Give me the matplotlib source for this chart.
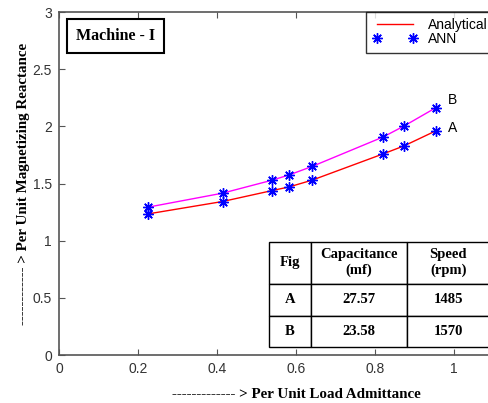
import matplotlib.pyplot as plt

# per unit load admittance
admit = [0.226, 0.414, 0.540, 0.583, 0.641, 0.821, 0.874, 0.954]
xm_a = [1.235, 1.343, 1.439, 1.471, 1.530, 1.760, 1.830, 1.961]
xm_b = [1.294, 1.416, 1.530, 1.576, 1.650, 1.908, 2.004, 2.163]

tab_cols = ["Fig", "Capacitance\n(mf)", "Speed\n(rpm)"]
tab_rows = [["A", "27.57", "1485"], ["B", "23.58", "1570"]]

serif = "Liberation Serif"
sans = "Liberation Sans"
gray = "#555555"

fig = plt.figure(figsize=(4.88, 4.03), dpi=100)
ax = fig.add_axes([0.121, 0.119, 0.971, 0.851])

ax.plot(admit, xm_a, color="red", lw=1, label="Analytical")
ax.plot(admit, xm_b, color="magenta", lw=1)
star = (8, 2, 0)
ax.plot(admit, xm_a, ls="none", marker=star, color="blue", ms=7.5, mew=1.0, label="ANN")
ax.plot(admit, xm_b, ls="none", marker=star, color="blue", ms=7.5, mew=1.0)

ax.text(0.985, xm_b[-1] + 0.03, "B", fontsize=10, family=sans)
ax.text(0.985, xm_a[-1] - 0.01, "A", fontsize=10, family=sans)

ax.set_xlim(0, 1.2)
ax.set_ylim(0, 3)
ax.set_xticks([0, 0.2, 0.4, 0.6, 0.8, 1])
ax.set_xticklabels(["0", "0.2", "0.4", "0.6", "0.8", "1"])
ax.set_yticks([0, 0.5, 1, 1.5, 2, 2.5, 3])
ax.set_yticklabels(["0", "0.5", "1", "1.5", "2", "2.5", "3"])
ax.tick_params(direction="in", top=True, right=True, labelsize=10, colors=gray,
               labelcolor="#333333", pad=5, length=4)
for lab in ax.get_xticklabels() + ax.get_yticklabels():
    lab.set_family(sans)
for s in ax.spines.values():
    s.set_color(gray)
    s.set_linewidth(1.2)

ax.set_xlabel("------------- > Per Unit Load Admittance", family=serif,
              fontweight="bold", fontsize=10.8, labelpad=9)
ax.set_ylabel("------------ > Per Unit Magnetizing Reactance", family=serif,
              fontweight="bold", fontsize=10.8, labelpad=2)

ax.text(0.035, 0.93, "Machine - I", transform=ax.transAxes, family=serif,
        fontweight="bold", fontsize=11.5, va="center",
        bbox=dict(boxstyle="square,pad=0.55", fc="white", ec="black", lw=1.5))

leg = ax.legend(loc="upper left", bbox_to_anchor=(0.648, 1.0), numpoints=2,
                prop={"family": sans, "size": 10}, frameon=True, fancybox=False,
                borderaxespad=0, handlelength=3.2, labelspacing=0.0,
                borderpad=0.45)
leg.get_frame().set_edgecolor("black")
leg.get_frame().set_linewidth(1.0)

tb = ax.table(cellText=tab_rows, colLabels=tab_cols, cellLoc="center",
              bbox=[0.443, 0.022, 0.466, 0.309], colWidths=[42, 96, 83])
tb.auto_set_font_size(False)
for (r, c), cell in tb.get_celld().items():
    cell.set_linewidth(1.0)
    cell.get_text().set_family(serif)
    cell.get_text().set_fontweight("bold")
    cell.get_text().set_fontsize(10.5)
    if r == 0:
        cell.set_height(42.3)
    else:
        cell.set_height(32)

fig.savefig("out.png", dpi=100)
